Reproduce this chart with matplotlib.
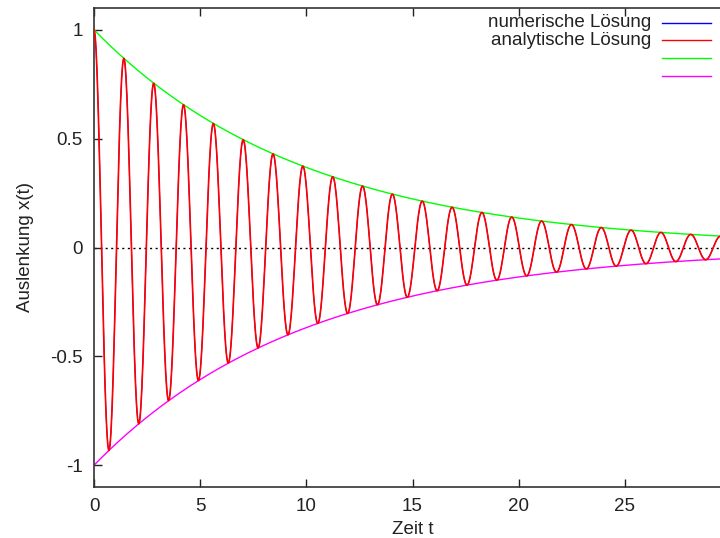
import numpy as np
import matplotlib
matplotlib.use('Agg')
import matplotlib.pyplot as plt
from matplotlib.lines import Line2D

# oscillator parameters (decay 1/e at t=10, period ~1.405)
gamma = 0.1
omega0_sq = 20.0
x0, v0 = 1.0, 0.0
t_range = [0.0, 30.0]
dt_numeric = 0.05
n_samples = 1200

x_ticks = [0, 5, 10, 15, 20, 25]
y_ticks = [-1, -0.5, 0, 0.5, 1]
y_tick_labels = ['-1', '-0.5', '0', '0.5', '1']
legend_labels = ['numerische Lösung', 'analytische Lösung', '', '']
legend_colors = ['#0000ff', '#ff0000', '#00ff00', '#ff00ff']

plt.rcParams['font.family'] = ['Liberation Sans', 'DejaVu Sans']


def rhs(state):
    x, v = state
    return np.array([v, -2 * gamma * v - omega0_sq * x])


def integrate_rk4(t0, t1, dt, state):
    ts = np.arange(t0, t1 + dt / 2, dt)
    out = np.empty((len(ts), 2))
    out[0] = state
    for i in range(1, len(ts)):
        s = out[i - 1]
        k1 = rhs(s)
        k2 = rhs(s + 0.5 * dt * k1)
        k3 = rhs(s + 0.5 * dt * k2)
        k4 = rhs(s + dt * k3)
        out[i] = s + dt / 6 * (k1 + 2 * k2 + 2 * k3 + k4)
    return ts, out[:, 0]


t_num, x_num = integrate_rk4(t_range[0], t_range[1], dt_numeric, np.array([x0, v0]))

omega = np.sqrt(omega0_sq - gamma ** 2)
t = np.linspace(t_range[0], t_range[1], n_samples)
x_ana = np.exp(-gamma * t) * (x0 * np.cos(omega * t) + (v0 + gamma * x0) / omega * np.sin(omega * t))
env = np.exp(-gamma * t)

fig = plt.figure(figsize=(7.2, 5.38), dpi=100)
ax = fig.add_axes([94 / 720, 1 - 487 / 538, (731 - 94) / 720, (487 - 8) / 538])

ax.axhline(0, color='black', lw=1, ls=(0, (1.5, 2.5)), zorder=1)
ax.plot(t_num, x_num, color=legend_colors[0], lw=0.7, zorder=2)
ax.plot(t, x_ana, color=legend_colors[1], lw=1.2, zorder=3)
ax.plot(t, env, color=legend_colors[2], lw=1.0, zorder=2)
ax.plot(t, -env, color=legend_colors[3], lw=1.0, zorder=2)

ax.set_xlim(*t_range)
ax.set_ylim(-1.1, 1.1)
ax.set_xticks(x_ticks)
ax.set_yticks(y_ticks)
ax.set_yticklabels(y_tick_labels)
ax.tick_params(direction='in', top=True, right=True, length=6, width=1,
               labelsize=13.5, colors='#222222', pad=8)
for sp in ax.spines.values():
    sp.set_linewidth(1.2)
    sp.set_color('#333333')

ax.set_xlabel('Zeit t', fontsize=13.5, color='#222222', labelpad=4)
ax.set_ylabel('Auslenkung x(t)', fontsize=13.5, color='#222222', labelpad=12)

# gnuplot-style key: text right-aligned, sample line to the right
row_y = [22.7, 40.3, 58.3, 76.0]
for label, color, yy in zip(legend_labels, legend_colors, row_y):
    yf = 1 - yy / 538
    if label:
        fig.text(651 / 720, yf, label, ha='right', va='center', fontsize=13.5, color='#222222')
    fig.add_artist(Line2D([662 / 720, 711 / 720], [yf, yf], color=color, lw=1.0,
                          transform=fig.transFigure))

fig.savefig('out.png', dpi=100)
